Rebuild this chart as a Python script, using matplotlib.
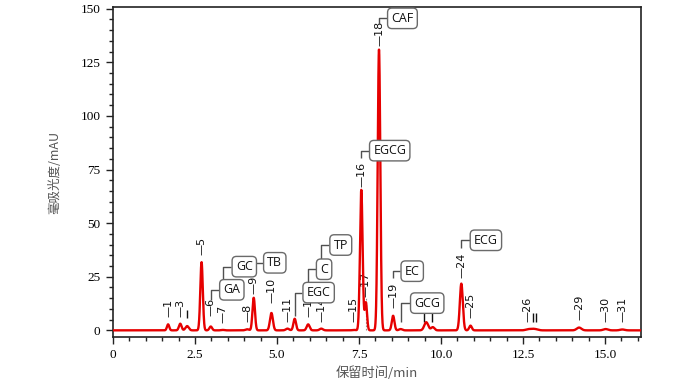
import numpy as np
import matplotlib
matplotlib.use("Agg")
import matplotlib.pyplot as plt
from matplotlib.ticker import MultipleLocator, FixedLocator, FixedFormatter

# ---------------- data ----------------
peak_rt = [1.68, 2.05, 2.26, 2.70, 2.98, 3.35, 4.09, 4.29, 4.83, 5.32, 5.54, 5.95,
           6.35, 7.34, 7.57, 7.71, 8.11, 8.54, 8.77, 9.55, 9.75, 10.62, 10.90,
           12.65, 12.79, 12.91, 14.21, 15.02, 15.53]
peak_h = [2.8, 3.1, 2.0, 31.8, 1.8, 0.2, 0.5, 15.2, 8.1, 0.8, 5.4, 2.8,
          0.8, 0.2, 65.5, 13.0, 131.0, 6.8, 0.6, 3.8, 1.5, 21.8, 2.2,
          0.5, 0.6, 0.4, 1.3, 0.6, 0.4]
peak_w = [0.035, 0.04, 0.05, 0.038, 0.04, 0.05, 0.05, 0.038, 0.045, 0.05, 0.04, 0.045,
          0.05, 0.05, 0.04, 0.035, 0.04, 0.04, 0.05, 0.06, 0.05, 0.045, 0.04,
          0.07, 0.07, 0.07, 0.07, 0.07, 0.07]

# numbered peak labels: x, bottom of tick (mAU), text
lab_x = [1.68, 2.05, 2.70, 2.98, 3.35, 4.09, 4.29, 4.83, 5.32, 5.95, 6.35,
         7.34, 7.57, 7.71, 8.11, 8.54, 10.62, 10.90, 12.65,
         14.21, 15.02, 15.53]
lab_y = [6.3, 6.2, 35.1, 6.5, 3.5, 4.0, 16.8, 12.6, 4.0, 6.1, 4.0,
         4.0, 67.0, 15.7, 132.5, 10.3, 24.3, 5.6, 4.0,
         4.8, 4.0, 4.0]
lab_txt = ['1', '3', '5', '6', '7', '8', '9', '10', '11', '13', '14',
           '15', '16', '17', '18', '19', '24', '25', '26',
           '29', '30', '31']

# peaks whose number is hidden: only the short tick is drawn (x, bottom, top in mAU)
tick_x = [2.26, 9.48, 9.74, 12.79, 12.91]
tick_y0 = [5.7, 4.0, 4.0, 4.0, 4.0]
tick_y1 = [9.6, 8.7, 8.7, 7.9, 7.9]

# compound boxes: name, bracket x, bracket start y, box left x, box centre y
cmp_name = ['CAF', 'EGCG', 'ECG', 'EC', 'GCG', 'GA', 'GC', 'TB', 'EGC', 'C', 'TP']
cmp_lx = [8.11, 7.57, 10.62, 8.54, 8.77, 2.98, 3.35, 4.29, 5.54, 5.95, 6.35]
cmp_y0 = [142.8, 80.2, 38.2, 24.3, 4.0, 14.1, 20.0, 27.0, 6.8, 18.0, 29.0]
cmp_bx = [8.35, 7.80, 10.87, 8.76, 9.05, 3.23, 3.61, 4.57, 5.77, 6.18, 6.59]
cmp_by = [145.5, 83.8, 42.0, 27.6, 12.7, 18.9, 29.7, 31.5, 17.6, 28.5, 39.8]

drop_x = [7.71]

x_ticks = [0, 2.5, 5.0, 7.5, 10.0, 12.5, 15.0]
x_tick_labels = ['0', '2.5', '5.0', '7.5', '10.0', '12.5', '15.0']
y_ticks = [0, 25, 50, 75, 100, 125, 150]
y_tick_labels = ['0', '25', '50', '75', '100', '125', '150']

# ---------------- figure ----------------
fig = plt.figure(figsize=(7.0, 3.87), dpi=100)
ax = fig.add_axes([113 / 700, 1 - 337 / 387, 528.4 / 700, 329.7 / 387])

t = np.linspace(0, 16.11, 5000)
sig = np.zeros_like(t)
for rt, h, w in zip(peak_rt, peak_h, peak_w):
    sig += h * np.exp(-(t - rt) ** 2 / (2 * w ** 2))
ax.plot(t, sig, color='#e60000', lw=1.7, zorder=4)

for dx in drop_x:
    ax.plot([dx, dx], [0, 15.0], color='#909090', lw=0.8, ls=(0, (1.5, 1.5)), zorder=2)

for x, y, s in zip(lab_x, lab_y, lab_txt):
    ax.annotate('\u2014' + s, xy=(x, y), xytext=(0, 0), textcoords='offset points',
                rotation=90, ha='center', va='bottom', fontsize=8,
                family='DejaVu Sans', color='#111111', zorder=3)

ax.vlines(tick_x, tick_y0, tick_y1, color='#111111', lw=1.0, zorder=3)

for name, lx, y0, bx, by in zip(cmp_name, cmp_lx, cmp_y0, cmp_bx, cmp_by):
    ax.plot([lx, lx, bx], [y0, by, by], color='#505050', lw=1.0, zorder=3,
            solid_capstyle='butt')
    ax.annotate(name, xy=(bx, by), xytext=(3.2, 0), textcoords='offset points',
                ha='left', va='center', fontsize=9, family='Open Sans', color='#111111',
                bbox=dict(boxstyle='round,pad=0.3,rounding_size=0.35', fc='white',
                          ec='#6a6a6a', lw=1.0),
                zorder=6)

ax.set_xlim(0, 16.11)
ax.set_ylim(-3.1, 150.65)
ax.xaxis.set_major_locator(FixedLocator(x_ticks))
ax.xaxis.set_major_formatter(FixedFormatter(x_tick_labels))
ax.xaxis.set_minor_locator(MultipleLocator(0.5))
ax.yaxis.set_major_locator(FixedLocator(y_ticks))
ax.yaxis.set_major_formatter(FixedFormatter(y_tick_labels))
ax.yaxis.set_minor_locator(MultipleLocator(5))

ax.tick_params(which='major', direction='out', length=5, width=1.0, color='#222222',
               labelsize=9.5, pad=4)
ax.tick_params(which='minor', direction='out', length=3, width=1.0, color='#222222')
for lab in ax.get_xticklabels() + ax.get_yticklabels():
    lab.set_family('Liberation Serif')
for sp in ax.spines.values():
    sp.set_linewidth(1.2)
    sp.set_color('#222222')

ax.set_xlabel('保留时间/min', family=['Noto Sans CJK SC', 'DejaVu Sans'],
              fontsize=9.5, color='#555555')
ax.set_ylabel('毫吸光度/mAU', family=['Noto Sans CJK SC', 'DejaVu Sans'],
              fontsize=9, color='#555555')
ax.xaxis.set_label_coords(0.5, -0.088)
ax.yaxis.set_label_coords(-0.097, 0.5)

fig.savefig('out.png', dpi=100)
